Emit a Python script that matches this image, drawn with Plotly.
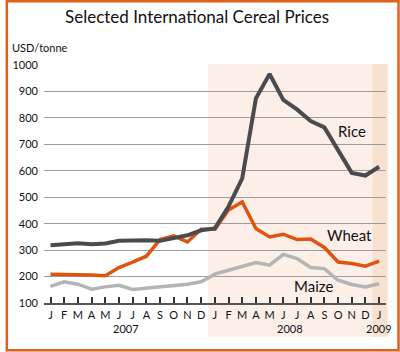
import plotly.graph_objects as go

months = ["J", "F", "M", "A", "M", "J", "J", "A", "S", "O", "N", "D",
          "J", "F", "M", "A", "M", "J", "J", "A", "S", "O", "N", "D", "J"]
years = ["2007", "2008", "2009"]
year_pos = [5.5, 17.5, 24]

rice = [318, 323, 326, 322, 325, 335, 337, 337, 335, 344, 356, 375,
        382, 465, 571, 874, 966, 868, 832, 788, 764, 678, 592, 582, 615]
wheat = [209, 209, 209, 206, 203, 234, 255, 277, 340, 354, 331, 379,
         379, 452, 482, 382, 350, 360, 340, 342, 310, 255, 249, 239, 258]
maize = [163, 180, 171, 152, 161, 167, 151, 156, 159, 163, 171, 180,
         209, 224, 239, 253, 243, 284, 268, 234, 230, 186, 170, 161, 173]

x = list(range(len(months)))

FONT = "Lato"
W, H = 400, 352
L, R, T, B = 39, 14, 65, 49
XMIN, XMAX = -0.475, 24.5
pw, ph = W - L - R, H - T - B


def px_x(px):
    return (px - L) / pw


def px_y(py):
    return (H - B - py) / ph


def idx_x(i):
    return (i - XMIN) / (XMAX - XMIN)


fig = go.Figure()
fig.add_trace(go.Scatter(x=x, y=maize, mode="lines", line=dict(color="#b4b4b4", width=3.5),
                         name="Maize", showlegend=False, hoverinfo="skip"))
fig.add_trace(go.Scatter(x=x, y=wheat, mode="lines", line=dict(color="#df5510", width=3.5),
                         name="Wheat", showlegend=False, hoverinfo="skip"))
fig.add_trace(go.Scatter(x=x, y=rice, mode="lines", line=dict(color="#4b4b4d", width=4),
                         name="Rice", showlegend=False, hoverinfo="skip"))

shapes = [
    dict(type="rect", xref="paper", yref="paper", layer="below",
         x0=idx_x(11.5), x1=idx_x(23.5), y0=px_y(336.7), y1=px_y(64),
         fillcolor="#fcefe8", line=dict(width=0)),
    dict(type="rect", xref="paper", yref="paper", layer="below",
         x0=idx_x(23.5), x1=idx_x(24.62), y0=px_y(336.7), y1=px_y(64),
         fillcolor="#f9e1d1", line=dict(width=0)),
    dict(type="rect", xref="paper", yref="paper", layer="above",
         x0=px_x(1.3), x1=px_x(398.7), y0=px_y(350.2), y1=px_y(1.3),
         fillcolor="rgba(0,0,0,0)", line=dict(color="#e0601c", width=2.5)),
]

annotations = [
    dict(text="Selected International Cereal Prices", xref="paper", yref="paper",
         x=px_x(194), y=px_y(16), xanchor="center", yanchor="middle", showarrow=False,
         font=dict(family=FONT, size=17, color="#111")),
    dict(text="USD/tonne", xref="paper", yref="paper",
         x=px_x(5), y=px_y(47), xanchor="left", yanchor="middle", showarrow=False,
         font=dict(family=FONT, size=11, color="#111")),
    dict(text="Rice", x=22.0, y=750, xref="x", yref="y", showarrow=False,
         xanchor="center", yanchor="middle", font=dict(family=FONT, size=15, color="#111")),
    dict(text="Wheat", x=21.8, y=356, xref="x", yref="y", showarrow=False,
         xanchor="center", yanchor="middle", font=dict(family=FONT, size=15, color="#111")),
    dict(text="Maize", x=19.2, y=164, xref="x", yref="y", showarrow=False,
         xanchor="center", yanchor="middle", font=dict(family=FONT, size=15, color="#111")),
]
for yr, pos in zip(years, year_pos):
    annotations.append(dict(text=yr, x=pos, xref="x", yref="paper", y=px_y(328),
                            showarrow=False, xanchor="center", yanchor="middle",
                            font=dict(family=FONT, size=11, color="#111")))

fig.update_layout(
    width=W, height=H,
    margin=dict(l=L, r=R, t=T, b=B, pad=0),
    paper_bgcolor="white", plot_bgcolor="rgba(0,0,0,0)",
    shapes=shapes, annotations=annotations,
    showlegend=False,
    xaxis=dict(range=[XMIN, XMAX], tickmode="array", tickvals=x, ticktext=months,
               ticks="inside", ticklen=6, tickwidth=1.5, tickcolor="#333",
               showline=True, linecolor="#555", linewidth=2, showgrid=False,
               zeroline=False, ticklabelstandoff=1,
               tickfont=dict(family=FONT, size=11, color="#111")),
    yaxis=dict(range=[100, 1000], tickmode="array", tickvals=list(range(100, 1001, 100)),
               showgrid=True, gridcolor="#9c9c9c", gridwidth=1, zeroline=False,
               ticks="", ticklabelstandoff=5,
               tickfont=dict(family=FONT, size=11, color="#111")),
)

fig.write_html("out.html")
